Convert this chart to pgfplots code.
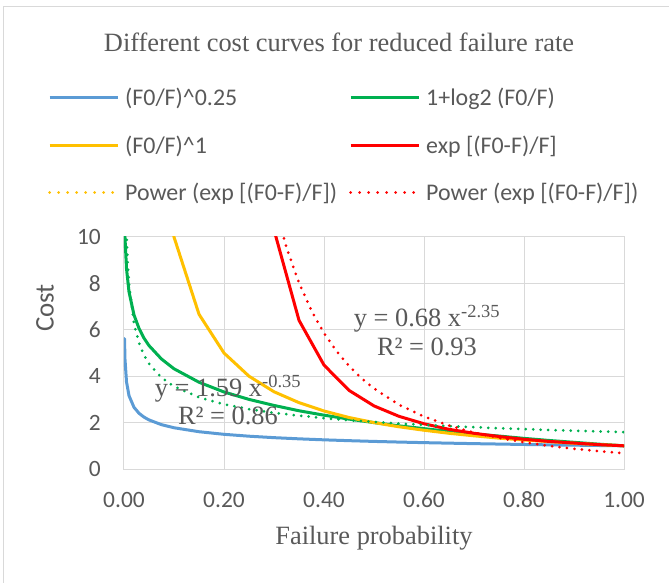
\documentclass[border=0pt]{standalone}
\usepackage{pgfplots}
\pgfplotsset{compat=1.18}
\usepackage{fontspec}
\setmainfont{Liberation Serif}
\newfontfamily\carlito{Carlito}
\definecolor{txt}{HTML}{595959}
\definecolor{gridc}{HTML}{D9D9D9}
\definecolor{cblue}{HTML}{5B9BD5}
\definecolor{cgreen}{HTML}{00B050}
\definecolor{cyellow}{HTML}{FFC000}
\definecolor{cred}{HTML}{FF0000}
\begin{document}
\begin{tikzpicture}
\path[use as bounding box] (-124bp,-114bp) rectangle (545bp,469bp);
\draw[gridc, line width=1bp] (-120.5bp,-114bp) -- (-120.5bp,462bp) -- (545bp,462bp);
\node[txt, font=\fontsize{26.5}{30}\selectfont] at (215bp,427bp) {Different cost curves for reduced failure rate};
\begin{axis}[
  at={(0,0)}, anchor=south west,
  scale only axis, width=500bp, height=232bp,
  xmin=0, xmax=1, ymin=0, ymax=10,
  xtick={0,0.2,0.4,0.6,0.8,1},
  xticklabels={0.00,0.20,0.40,0.60,0.80,1.00},
  ytick={0,2,4,6,8,10},
  yticklabels={0,2,4,6,8,10},
  grid=major,
  major grid style={gridc, line width=1bp},
  axis line style={gridc, line width=1bp},
  tick style={draw=none},
  ticklabel style={font=\carlito\fontsize{23.5}{24}\selectfont, text=txt},
  xticklabel style={anchor=center, yshift=-31bp},
  yticklabel style={anchor=east, inner sep=0pt, xshift=-23bp},
  xlabel={Failure probability},
  xlabel style={font=\fontsize{26.5}{30}\selectfont, text=txt, at={(axis description cs:0.5,0)}, anchor=center, yshift=-69bp},
  ylabel={Cost},
  ylabel style={font=\carlito\fontsize{27}{30}\selectfont, text=txt, at={(axis description cs:0,0.694)}, anchor=center, yshift=79bp},
  clip=true,
  legend columns=2,
  legend cell align=left,
  legend image code/.code={\draw[#1] (0bp,0bp) -- (68bp,0bp);},
  legend style={draw=none, fill=none, at={(-0.158,1.66)}, anchor=north west,
    font=\carlito\fontsize{24}{24}\selectfont, text=txt,
    /tikz/every odd column/.append style={column sep=4bp},
    /tikz/every even column/.append style={column sep=10bp},
    row sep=24.5bp},
  solid/.style={line width=3bp, line join=round, line cap=round},
  dotty/.style={line width=3bp, line cap=round, dash pattern=on 0bp off 7.5bp},
]
\addlegendimage{cblue, line width=3bp}
\addlegendentry{(F0/F)\textasciicircum 0.25}
\addlegendimage{cgreen, line width=3bp}
\addlegendentry{1+log2 (F0/F)}
\addlegendimage{cyellow, line width=3bp}
\addlegendentry{(F0/F)\textasciicircum 1}
\addlegendimage{cred, line width=3bp}
\addlegendentry{exp [(F0-F)/F]}
\addlegendimage{cyellow, line width=3bp, line cap=round, dash pattern=on 0bp off 9bp}
\addlegendentry{Power (exp [(F0-F)/F])}
\addlegendimage{cred, line width=3bp, line cap=round, dash pattern=on 0bp off 9bp}
\addlegendentry{Power (exp [(F0-F)/F])}

% (F0/F)^0.25
\addplot[cblue, solid, forget plot] coordinates {
(0.001,5.623)(0.002,4.729)(0.005,3.761)(0.01,3.162)(0.02,2.659)(0.03,2.403)
(0.04,2.236)(0.05,2.115)(0.075,1.911)(0.1,1.778)(0.15,1.607)(0.2,1.495)
(0.25,1.414)(0.3,1.351)(0.35,1.300)(0.4,1.257)(0.45,1.221)(0.5,1.189)
(0.55,1.161)(0.6,1.136)(0.65,1.114)(0.7,1.093)(0.75,1.075)(0.8,1.057)
(0.85,1.041)(0.9,1.027)(0.95,1.013)(1.0,1.000)};
% 1+log2(F0/F)
\addplot[cgreen, solid, forget plot] coordinates {
(0.001,10.97)(0.002,9.97)(0.005,8.64)(0.01,7.64)(0.02,6.64)(0.03,6.06)
(0.04,5.64)(0.05,5.32)(0.075,4.74)(0.1,4.32)(0.15,3.74)(0.2,3.32)
(0.25,3.00)(0.3,2.74)(0.35,2.51)(0.4,2.32)(0.45,2.15)(0.5,2.00)
(0.55,1.86)(0.6,1.74)(0.65,1.62)(0.7,1.51)(0.75,1.42)(0.8,1.32)
(0.85,1.23)(0.9,1.15)(0.95,1.07)(1.0,1.00)};
% (F0/F)^1
\addplot[cyellow, solid, forget plot] coordinates {
(0.05,20.0)(0.1,10.0)(0.15,6.67)(0.2,5.00)(0.25,4.00)(0.3,3.33)(0.35,2.86)
(0.4,2.50)(0.45,2.22)(0.5,2.00)(0.55,1.82)(0.6,1.67)(0.65,1.54)(0.7,1.43)
(0.75,1.33)(0.8,1.25)(0.85,1.18)(0.9,1.11)(0.95,1.05)(1.0,1.00)};
% exp[(F0-F)/F]
\addplot[cred, solid, forget plot] coordinates {
(0.25,20.1)(0.3,10.31)(0.35,6.41)(0.4,4.48)(0.45,3.39)(0.5,2.72)
(0.55,2.27)(0.6,1.95)(0.65,1.71)(0.7,1.54)(0.75,1.40)(0.8,1.28)
(0.85,1.19)(0.9,1.12)(0.95,1.05)(1.0,1.00)};
% power trendline 1.59 x^-0.35
\addplot[cgreen, dotty, forget plot] coordinates {
(0.003,12.14)(0.004,10.98)(0.005,10.16)(0.0075,8.81)(0.01,7.97)(0.02,6.25)
(0.03,5.43)(0.04,4.91)(0.05,4.54)(0.075,3.94)(0.1,3.56)(0.15,3.09)
(0.2,2.79)(0.25,2.58)(0.3,2.42)(0.35,2.30)(0.4,2.19)(0.45,2.10)
(0.5,2.03)(0.55,1.96)(0.6,1.90)(0.65,1.85)(0.7,1.80)(0.75,1.76)
(0.8,1.72)(0.85,1.68)(0.9,1.65)(0.95,1.62)(1.0,1.59)};
% power trendline 0.68 x^-2.35
\addplot[cred, dotty, forget plot] coordinates {
(0.3,11.5)(0.325,9.54)(0.35,8.02)(0.375,6.82)(0.4,5.86)(0.425,5.08)
(0.45,4.44)(0.475,3.91)(0.5,3.47)(0.55,2.77)(0.6,2.26)(0.65,1.87)
(0.7,1.57)(0.75,1.34)(0.8,1.15)(0.85,0.996)(0.9,0.871)(0.95,0.767)(1.0,0.68)};

\node[txt, font=\fontsize{26.5}{29}\selectfont, align=center] at (axis cs:0.606,5.95) {y = 0.68 x\textsuperscript{-2.35}\\R² = 0.93};
\node[txt, font=\fontsize{26.5}{29}\selectfont, align=center] at (axis cs:0.208,2.97) {y = 1.59 x\textsuperscript{-0.35}\\R² = 0.86};
\end{axis}
\end{tikzpicture}
\end{document}
